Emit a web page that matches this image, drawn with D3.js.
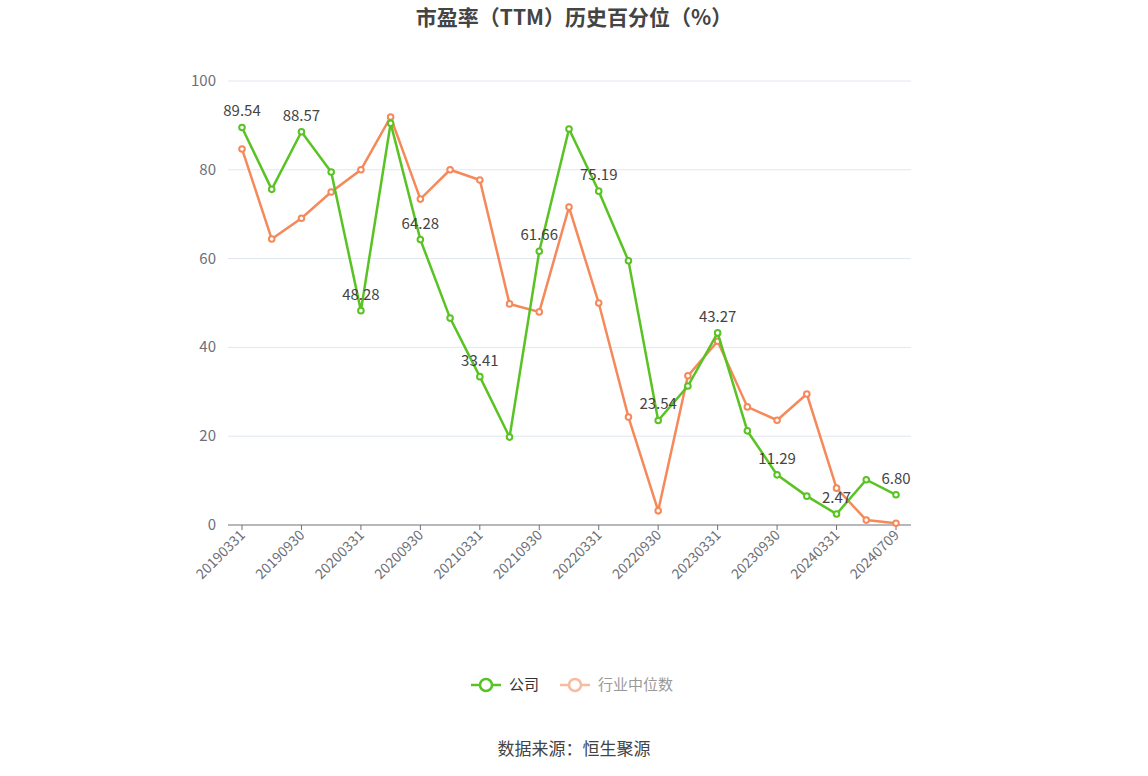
<!DOCTYPE html>
<html><head><meta charset="utf-8">
<script src="https://cdn.jsdelivr.net/npm/d3@7"></script>
<style>body{margin:0;background:#fff;font-family:"Noto Sans CJK SC","Noto Sans",sans-serif;}</style>
</head><body><svg id="c" width="1148" height="776"></svg>
<script>
const dates=["20190331","20190630","20190930","20191231","20200331","20200630","20200930","20201231","20210331","20210630","20210930","20211231","20220331","20220630","20220930","20221231","20230331","20230630","20230930","20231231","20240331","20240630","20240709"];
const company=[89.54,75.6,88.57,79.5,48.28,90.5,64.28,46.6,33.41,19.8,61.66,89.2,75.19,59.5,23.54,31.3,43.27,21.2,11.29,6.5,2.47,10.2,6.80];
const industry=[84.7,64.4,69.1,75,80,91.9,73.4,80,77.7,49.8,48,71.6,50,24.3,3.2,33.6,41.4,26.6,23.6,29.5,8.3,1.1,0.4];
const yTicks=[0,20,40,60,80,100];
const svg=d3.select("#c");
const x=d3.scalePoint().domain(dates).range([242,896]);
const y=d3.scaleLinear().domain([0,100]).range([525,81]);
svg.append("text").attr("x",574).attr("y",25).attr("text-anchor","middle").attr("font-size",21).attr("font-weight","bold").attr("fill","#444").text("市盈率（TTM）历史百分位（%）");
yTicks.forEach(t=>{
  if(t>0)svg.append("line").attr("x1",228).attr("x2",911).attr("y1",y(t)).attr("y2",y(t)).attr("stroke","#e0e6f1");
  svg.append("text").attr("x",216).attr("y",y(t)+5).attr("text-anchor","end").attr("font-size",15).attr("fill","#6e7079").text(t);
});
svg.append("line").attr("x1",228).attr("x2",911).attr("y1",525).attr("y2",525).attr("stroke","#6e7079");
dates.forEach((d,i)=>{
  if(i%2)return;
  svg.append("line").attr("x1",x(d)).attr("x2",x(d)).attr("y1",525).attr("y2",530).attr("stroke","#6e7079");
  svg.append("text").attr("transform",`translate(${x(d)+4},${536}) rotate(-45)`).attr("text-anchor","end").attr("font-size",14).attr("fill","#6e7079").text(d);
});
function series(vals,col){
  svg.append("path").datum(vals).attr("fill","none").attr("stroke",col).attr("stroke-width",2.5)
    .attr("d",d3.line().x((v,i)=>x(dates[i])).y(v=>y(v)));
  svg.selectAll(null).data(vals).enter().append("circle").attr("cx",(v,i)=>x(dates[i])).attr("cy",v=>y(v)).attr("r",2.8).attr("fill","#fff").attr("stroke",col).attr("stroke-width",2);
}
series(industry,"#f5895a");
series(company,"#58c322");
company.forEach((v,i)=>{ if(i%2)return;
  svg.append("text").attr("x",x(dates[i])).attr("y",y(v)-11).attr("text-anchor","middle").attr("font-size",15).attr("fill","#444").text(v.toFixed(2));
});
// legend
const lg=svg.append("g");
lg.append("line").attr("x1",471).attr("x2",501).attr("y1",685).attr("y2",685).attr("stroke","#58c322").attr("stroke-width",2.5);
lg.append("circle").attr("cx",486).attr("cy",685).attr("r",6).attr("fill","#fff").attr("stroke","#58c322").attr("stroke-width",2.5);
lg.append("text").attr("x",509).attr("y",690).attr("font-size",15).attr("fill","#333").text("公司");
lg.append("line").attr("x1",560).attr("x2",590).attr("y1",685).attr("y2",685).attr("stroke","#f8bba0").attr("stroke-width",2.5);
lg.append("circle").attr("cx",575).attr("cy",685).attr("r",6).attr("fill","#fff").attr("stroke","#f8bba0").attr("stroke-width",2.5);
lg.append("text").attr("x",598).attr("y",690).attr("font-size",15).attr("fill","#999").text("行业中位数");
svg.append("text").attr("x",574).attr("y",755).attr("text-anchor","middle").attr("font-size",17).attr("fill","#444").text("数据来源：恒生聚源");
</script></body></html>
